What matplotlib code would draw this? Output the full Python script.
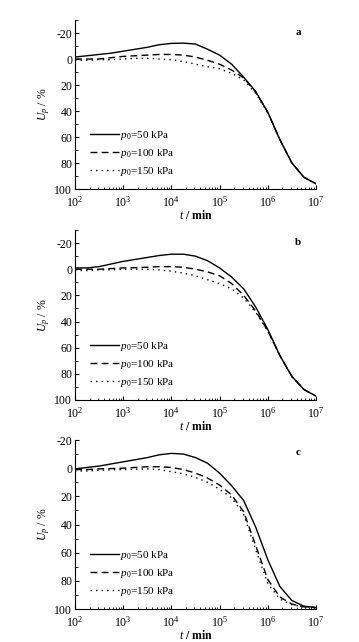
import numpy as np
import matplotlib
matplotlib.use("Agg")
import matplotlib.pyplot as plt
from matplotlib.ticker import MultipleLocator, LogLocator, NullFormatter

plt.rcParams["font.family"] = ["Liberation Serif", "DejaVu Serif"]
plt.rcParams["mathtext.fontset"] = "custom"
plt.rcParams["mathtext.rm"] = "Liberation Serif"
plt.rcParams["mathtext.it"] = "Liberation Serif:italic"
plt.rcParams["axes.unicode_minus"] = False

# log10(t/min) sample points, quarter decades
logt = [2.0, 2.25, 2.5, 2.75, 3.0, 3.25, 3.5, 3.75, 4.0, 4.25, 4.5,
        4.75, 5.0, 5.25, 5.5, 5.75, 6.0, 6.25, 6.5, 6.75, 7.0]

# panel a
a_50 = [-1.5, -2.5, -3.5, -4.5, -6, -7.5, -9, -11, -12, -12.2, -11.5,
        -7.5, -3, 4, 14, 25, 41, 62, 80, 91, 96]
a_100 = [0, 0, 0, -1, -2, -2.5, -3, -3.5, -3.5, -3, -1.5,
         1, 4, 8.5, 14.5, 25.5, 41, 62, 80, 91, 96]
a_150 = [1, 1, 0.5, 0.5, 0, -0.5, -0.5, 0, 0.5, 2, 4,
         6, 7.5, 11, 16, 26.5, 41.5, 62, 80, 91, 96]
# panel b
b_50 = [-1, -1, -2, -4, -6, -7.5, -9, -10.5, -11.5, -11.5, -10,
        -6.5, -1, 6, 15, 29, 46, 66, 82, 92, 97]
b_100 = [0, 0, 0, -0.5, -1, -1.2, -1.5, -2, -2, -1.5, 0,
         2, 5, 11, 20, 32, 47, 66, 82, 92, 97]
b_150 = [1, 1, 0.5, 0.5, 0, 0, 0, 0.5, 1.5, 3, 5,
         8, 11, 15, 22, 33, 47.5, 66, 82, 92, 97]
# panel c
c_50 = [0.5, -0.5, -1.5, -3, -4.5, -6, -7.5, -9.5, -10.5, -10, -7.5,
        -3.5, 3.5, 12.5, 23, 42, 65, 84, 94, 98, 99]
c_100 = [1, 1, 0.5, 0.3, 0, -0.5, -1, -1, -0.5, 1, 3.5,
         7, 12, 19, 31, 55, 79, 91.5, 96.5, 98.5, 99]
c_150 = [2, 2, 1.5, 1.2, 1, 0.8, 0.5, 1, 2.5, 4, 6.5,
         10, 15, 21, 33, 58, 82, 93, 97, 98.5, 99]

panels = [("a", a_50, a_100, a_150, -30), ("b", b_50, b_100, b_150, -30), ("c", c_50, c_100, c_150, -20)]
labels = [r"$p_0$=50 kPa", r"$p_0$=100 kPa", r"$p_0$=150 kPa"]
styles = ["-", (0, (5, 3)), (0, (1, 3))]

fig = plt.figure(figsize=(3.59, 6.42), dpi=100)
tops = [20, 230, 440]
bots = [189, 400, 609]
t = 10 ** np.array(logt)
for (name, s50, s100, s150, ytop), top, bot in zip(panels, tops, bots):
    ax = fig.add_axes([75 / 359, 1 - bot / 642, 241 / 359, (bot - top) / 642])
    for ys, ls, lab in zip([s50, s100, s150], styles, labels):
        ax.plot(t, ys, color="black", ls=ls, lw=1.0, label=lab)
    ax.set_xscale("log")
    ax.set_xlim(1e2, 1e7)
    ax.set_ylim(100, ytop)
    ax.yaxis.set_major_locator(MultipleLocator(20))
    ax.yaxis.set_minor_locator(MultipleLocator(10))
    ax.xaxis.set_major_locator(LogLocator(base=10))
    ax.xaxis.set_minor_locator(LogLocator(base=10, subs=np.arange(2, 10)))
    ax.xaxis.set_minor_formatter(NullFormatter())
    ax.tick_params(which="both", direction="in", labelsize=8.5)
    ax.tick_params(axis="y", pad=2)
    ax.tick_params(axis="x", pad=4)
    ax.tick_params(which="major", length=3)
    ax.tick_params(which="minor", length=1.8)
    ax.spines["top"].set_visible(False)
    ax.spines["right"].set_visible(False)
    ax.set_xlabel(r"$t$ / min", fontsize=8.5, fontweight="bold", labelpad=0)
    ax.set_ylabel(r"$U_p$ / %", fontsize=8.5, labelpad=2)
    ax.text(0.925, 0.925, name, transform=ax.transAxes, fontsize=8, fontweight="bold",
            ha="center", va="center")
    ax.legend(loc="lower left", bbox_to_anchor=(0.03, 0.02), frameon=False, fontsize=8,
              handlelength=2.6, handletextpad=0.1, labelspacing=0.45, borderaxespad=0.3)

fig.savefig("out.png", dpi=100, facecolor="white")
